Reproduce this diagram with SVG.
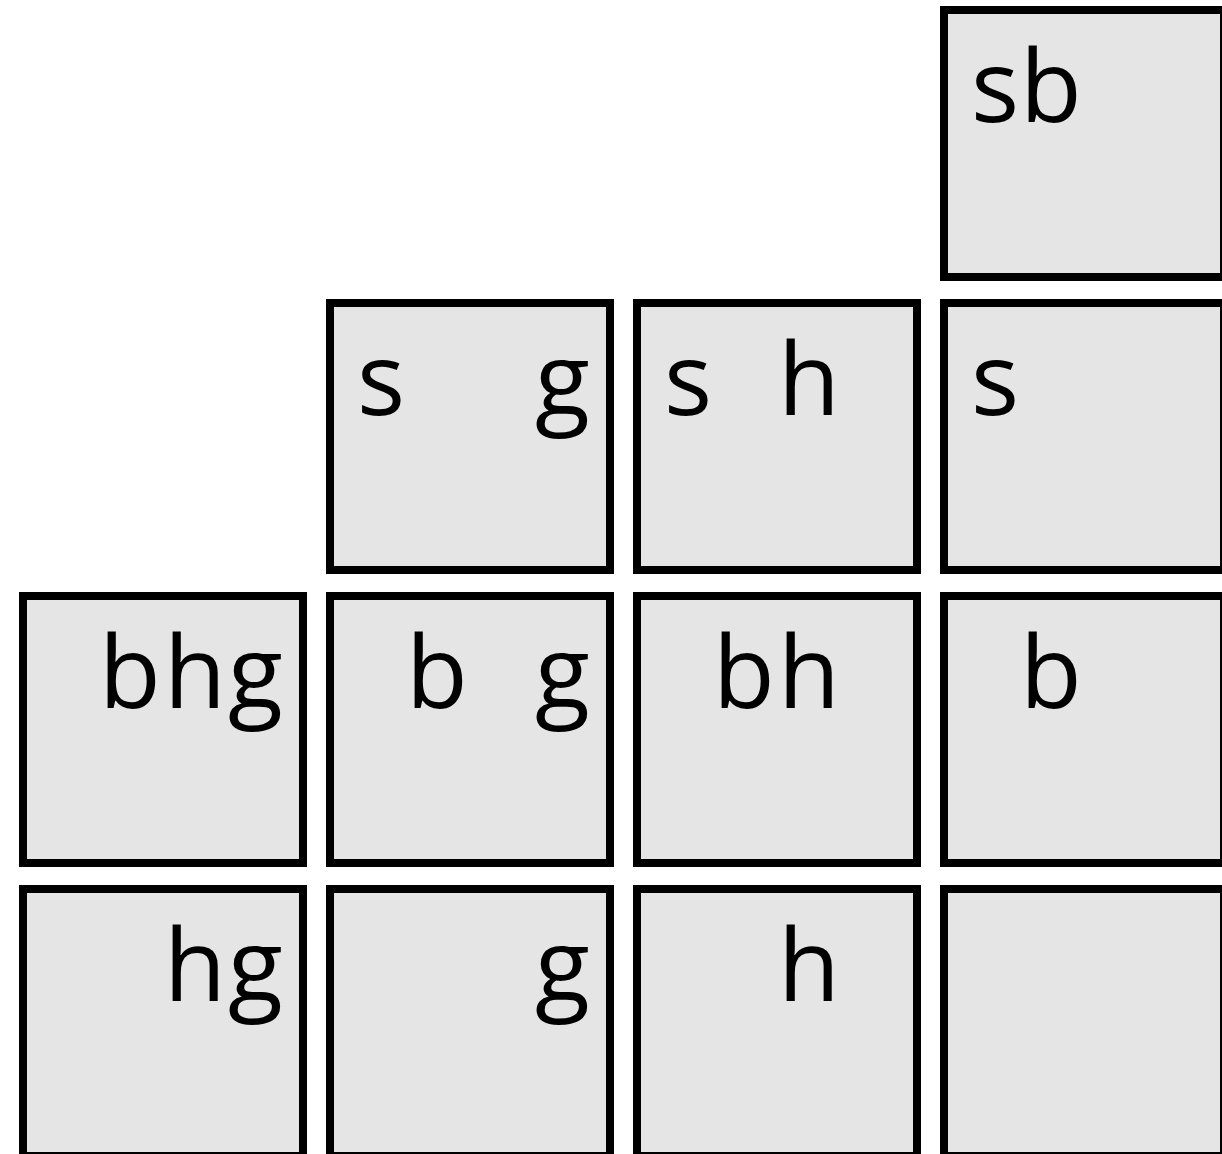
<svg xmlns="http://www.w3.org/2000/svg" width="1222" height="1154" viewBox="0 0 1222 1154">
<style>
.box{fill:#e5e5e5;stroke:#000;stroke-width:8}
.lbl{font-family:"Open Sans","Noto Sans",sans-serif;font-size:101px;fill:#000}
</style>
<rect width="1222" height="1154" fill="#fff"/>
<g id="n-sb"><rect class="box" x="944" y="10" width="280" height="267"/><text class="lbl" y="122"><tspan x="971">s</tspan><tspan x="1020">b</tspan></text></g>
<g id="n-sg"><rect class="box" x="330" y="303" width="280" height="267"/><text class="lbl" y="415"><tspan x="357">s</tspan><tspan x="535">g</tspan></text></g>
<g id="n-sh"><rect class="box" x="637" y="303" width="280" height="267"/><text class="lbl" y="415"><tspan x="664">s</tspan><tspan x="778">h</tspan></text></g>
<g id="n-s"><rect class="box" x="944" y="303" width="280" height="267"/><text class="lbl" y="415"><tspan x="971">s</tspan></text></g>
<g id="n-bhg"><rect class="box" x="23" y="596" width="280" height="267"/><text class="lbl" y="708"><tspan x="99">b</tspan><tspan x="164">h</tspan><tspan x="228">g</tspan></text></g>
<g id="n-bg"><rect class="box" x="330" y="596" width="280" height="267"/><text class="lbl" y="708"><tspan x="406">b</tspan><tspan x="535">g</tspan></text></g>
<g id="n-bh"><rect class="box" x="637" y="596" width="280" height="267"/><text class="lbl" y="708"><tspan x="713">b</tspan><tspan x="778">h</tspan></text></g>
<g id="n-b"><rect class="box" x="944" y="596" width="280" height="267"/><text class="lbl" y="708"><tspan x="1020">b</tspan></text></g>
<g id="n-hg"><rect class="box" x="23" y="889" width="280" height="267"/><text class="lbl" y="1001"><tspan x="164">h</tspan><tspan x="228">g</tspan></text></g>
<g id="n-g"><rect class="box" x="330" y="889" width="280" height="267"/><text class="lbl" y="1001"><tspan x="535">g</tspan></text></g>
<g id="n-h"><rect class="box" x="637" y="889" width="280" height="267"/><text class="lbl" y="1001"><tspan x="778">h</tspan></text></g>
<g id="n-empty"><rect class="box" x="944" y="889" width="280" height="267"/></g>
<g id="connectors"/>
</svg>
